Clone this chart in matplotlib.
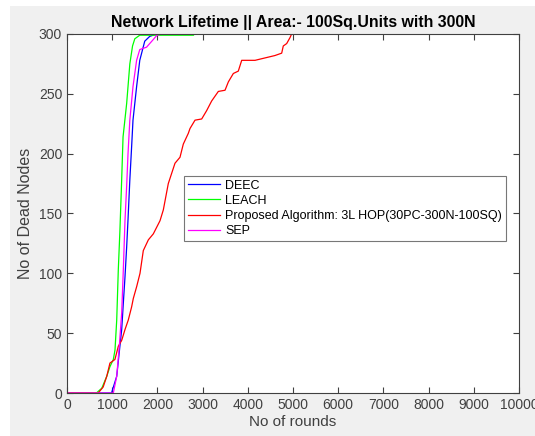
import matplotlib
matplotlib.use('Agg')
import matplotlib.pyplot as plt
from matplotlib.patches import Rectangle

# dead nodes per round for each protocol
deec_rounds = [0, 985, 1100, 1170, 1210, 1246, 1283, 1320, 1350, 1390, 1430, 1460,
               1540, 1610, 1720, 1830, 1980, 10000]
deec_dead = [0, 0, 14, 39, 53, 75, 97, 122, 145, 178, 206, 228, 256, 278, 294, 298, 300, 300]

leach_rounds = [0, 650, 770, 880, 950, 1025, 1062, 1100, 1135, 1170, 1205, 1240, 1320,
                1390, 1450, 1500, 1610, 2800, 2810, 10000]
leach_dead = [0, 0, 4, 14, 22, 28, 36, 61, 103, 135, 173, 214, 242, 275, 290, 296, 299,
              299, 300, 300]

prop_rounds = [0, 690, 800, 880, 950, 1060, 1135, 1210, 1283, 1356, 1430, 1467, 1542,
               1615, 1688, 1800, 1910, 2058, 2131, 2241, 2389, 2500, 2573, 2684, 2721,
               2832, 2980, 3090, 3200, 3348, 3496, 3570, 3680, 3790, 3865, 4160, 4600,
               4750, 4785, 4860, 4934, 4970, 10000]
prop_dead = [0, 0, 5, 14, 25, 28, 39, 44, 53, 61, 72, 79, 89, 100, 119, 128, 133, 144,
             153, 175, 192, 197, 208, 217, 221, 228, 229, 236, 244, 252, 253, 260, 267,
             269, 278, 278, 282, 284, 290, 292, 297, 300, 300]

sep_rounds = [0, 1025, 1100, 1157, 1210, 1246, 1283, 1320, 1350, 1390, 1460, 1540, 1610,
              1760, 1900, 1990, 2100, 10000]
sep_dead = [0, 0, 14, 39, 67, 103, 144, 173, 200, 228, 256, 278, 287, 289, 295, 299, 300, 300]

labels = ['DEEC', 'LEACH', 'Proposed Algorithm: 3L HOP(30PC-300N-100SQ)', 'SEP']

plt.rcParams['font.family'] = ['Liberation Sans', 'DejaVu Sans']

fig = plt.figure(figsize=(5.35, 4.36), dpi=100)
fig.patch.set_facecolor('white')
# grey window panel behind the axes
fig.patches.append(Rectangle((10 / 535, 0), 1, 1 - 6 / 436, transform=fig.transFigure,
                             facecolor='#f0f0f0', edgecolor='none', zorder=-10))

ax = fig.add_axes([67 / 535, 1 - 393 / 436, 452 / 535, 359 / 436])
ax.set_facecolor('white')

lw = 0.9
ax.plot(deec_rounds, deec_dead, color=(0, 0, 1), lw=lw, label=labels[0])
ax.plot(leach_rounds, leach_dead, color=(0, 1, 0), lw=lw, label=labels[1])
ax.plot(prop_rounds, prop_dead, color=(1, 0, 0), lw=lw, label=labels[2])
ax.plot(sep_rounds, sep_dead, color=(1, 0, 1), lw=lw, label=labels[3])

ax.set_xlim(0, 10000)
ax.set_ylim(0, 300)
ax.set_xticks(range(0, 10001, 1000))
ax.set_yticks(range(0, 301, 50))

axis_col = '#404040'
for s in ax.spines.values():
    s.set_color(axis_col)
    s.set_linewidth(0.8)
ax.tick_params(direction='in', top=True, right=True, length=4, width=0.8,
               colors=axis_col, labelsize=10, labelcolor='#404040')

ax.set_title('Network Lifetime || Area:- 100Sq.Units with 300N', fontsize=11.4,
             fontweight='bold', color='black', pad=5)
ax.set_xlabel('No of rounds', fontsize=11, color='#404040', labelpad=2)
ax.set_ylabel('No of Dead Nodes', fontsize=11.5, color='#404040', labelpad=4)

leg = ax.legend(loc='upper left', bbox_to_anchor=((184 - 67) / 452, (393 - 176) / 359),
                borderaxespad=0, fontsize=9, frameon=True, fancybox=False,
                handlelength=2.6, handletextpad=0.4, labelspacing=0.25,
                borderpad=0.3)
leg.get_frame().set_edgecolor('#555555')
leg.get_frame().set_linewidth(0.8)

fig.savefig('out.png', dpi=100, facecolor=fig.get_facecolor())
